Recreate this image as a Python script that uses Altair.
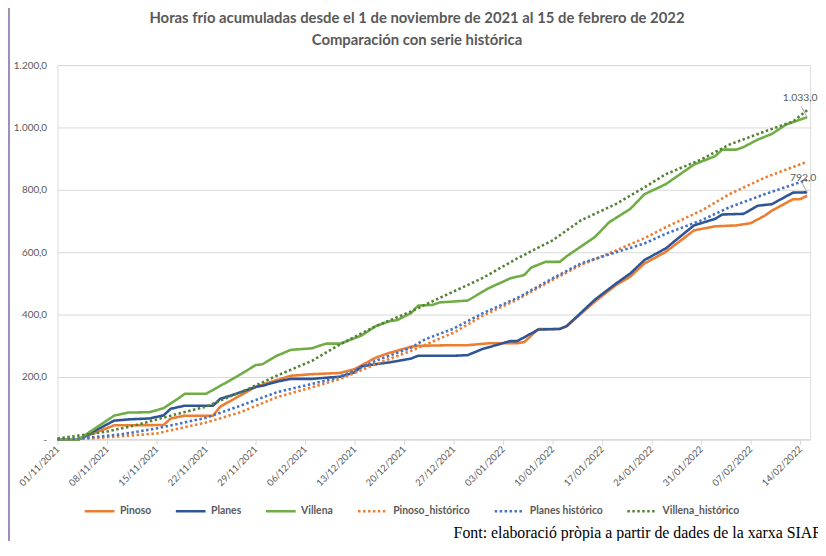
import altair as alt
import pandas as pd

titulo = ["Horas frío acumuladas desde el 1 de noviembre de 2021 al 15 de febrero de 2022",
          "Comparación con serie histórica"]
fuente = "Font: elaboració pròpia a partir de dades de la xarxa SIAR"
inicio = pd.Timestamp("2021-11-01")

series = ["Pinoso", "Planes", "Villena", "Pinoso_histórico", "Planes histórico", "Villena_histórico"]
colores = ["#ED7D31", "#2F5597", "#70AD47", "#ED7D31", "#4472C4", "#548235"]
trazos = [[1, 0], [1, 0], [1, 0], [2.5, 2.5], [2.5, 2.5], [2.5, 2.5]]

etiquetas_x = ["01/11/2021", "08/11/2021", "15/11/2021", "22/11/2021", "29/11/2021", "06/12/2021",
               "13/12/2021", "20/12/2021", "27/12/2021", "03/01/2022", "10/01/2022", "17/01/2022",
               "24/01/2022", "31/01/2022", "07/02/2022", "14/02/2022"]
valores_y = [0, 200, 400, 600, 800, 1000, 1200]

# days since 01/11/2021 and accumulated cold hours
pinoso_dias = [0, 3, 8, 15, 16, 18, 22, 23, 25, 28, 30, 33, 36, 40, 42, 45, 47, 48, 50, 51, 56, 58, 61, 65,
               66, 68, 71, 72, 76, 79, 81, 83, 86, 90, 93, 96, 98, 100, 101, 104, 105, 106]
pinoso_horas = [0, 0, 45, 46, 67, 76, 76, 105, 130, 168, 183, 204, 209, 213, 225, 262, 278, 284, 297, 300,
                302, 302, 308, 308, 312, 354, 354, 363, 442, 495, 522, 564, 601, 670, 683, 686, 693, 717,
                733, 770, 770, 781]

planes_dias = [0, 3, 8, 10, 13, 15, 16, 18, 22, 23, 25, 28, 29, 31, 33, 36, 40, 42, 43, 45, 47, 50, 51, 56,
               58, 60, 64, 65, 68, 71, 72, 76, 79, 81, 83, 86, 90, 93, 94, 97, 99, 101, 104, 106]
planes_horas = [0, 0, 60, 64, 67, 77, 98, 108, 108, 130, 144, 168, 172, 185, 194, 194, 201, 215, 234, 241,
                247, 259, 268, 268, 270, 289, 315, 315, 352, 354, 363, 448, 500, 532, 575, 612, 686, 707,
                721, 723, 749, 754, 791, 792]

villena_dias = [0, 3, 8, 10, 13, 15, 17, 18, 21, 24, 26, 28, 29, 31, 33, 36, 37, 38, 40, 43, 45, 47, 48, 50,
                51, 53, 54, 56, 58, 61, 64, 66, 67, 69, 71, 72, 76, 78, 81, 83, 86, 90, 93, 94, 96, 97, 99,
                101, 103, 106]
villena_horas = [0, 0, 76, 86, 87, 100, 130, 146, 146, 184, 210, 238, 241, 268, 287, 292, 300, 307, 307,
                 333, 363, 379, 382, 405, 429, 431, 439, 442, 445, 485, 516, 527, 551, 569, 569, 587, 649,
                 696, 739, 786, 818, 881, 908, 929, 929, 937, 961, 979, 1009, 1033]

pinoso_hist_dias = [0, 4, 9, 14, 21, 26, 31, 36, 40, 45, 50, 56, 60, 65, 70, 74, 79, 83, 86, 91, 95, 100, 106]
pinoso_hist_horas = [0, 2, 10, 19, 54, 88, 135, 167, 194, 241, 284, 342, 395, 448, 511, 559, 606, 645, 680,
                     733, 786, 839, 890]

planes_hist_dias = [0, 3, 9, 14, 21, 26, 31, 36, 39, 42, 45, 50, 52, 56, 60, 65, 70, 74, 79, 83, 86, 91, 95,
                    100, 106]
planes_hist_horas = [0, 3, 16, 35, 69, 109, 151, 178, 194, 220, 252, 294, 321, 355, 403, 453, 516, 564, 600,
                     628, 659, 702, 744, 786, 832]

villena_hist_dias = [0, 3, 7, 11, 16, 21, 27, 31, 36, 40, 45, 50, 52, 56, 60, 65, 70, 74, 79, 83, 86, 91, 95,
                     100, 104, 106]
villena_hist_horas = [3, 12, 25, 45, 76, 105, 162, 204, 252, 305, 363, 410, 432, 474, 516, 580, 638, 702,
                      755, 808, 850, 897, 945, 987, 1019, 1055]

datos = [
    ("Pinoso", pinoso_dias, pinoso_horas),
    ("Planes", planes_dias, planes_horas),
    ("Villena", villena_dias, villena_horas),
    ("Pinoso_histórico", pinoso_hist_dias, pinoso_hist_horas),
    ("Planes histórico", planes_hist_dias, planes_hist_horas),
    ("Villena_histórico", villena_hist_dias, villena_hist_horas),
]
filas = []
for nombre, dias, horas in datos:
    for d, h in zip(dias, horas):
        filas.append({"fecha": (inicio + pd.Timedelta(days=d)).strftime("%Y-%m-%dT%H:%M:%S"),
                      "horas": h, "serie": nombre})
df = pd.DataFrame(filas)


def fmt_es(v):
    return f"{v:,.1f}".replace(",", "X").replace(".", ",").replace("X", ".")


def dt(s, hours=0):
    d, m, y = s.split("/")
    return alt.DateTime(year=int(y), month=int(m), date=int(d), hours=hours)


ticks_x = [dt(s) for s in etiquetas_x]
gris = "#595959"
fuente_sans = "Lato"

leyenda = alt.Legend(title=None, orient="none", direction="horizontal", legendX=26, legendY=434,
                     symbolType="stroke", symbolSize=900, symbolStrokeWidth=2.5,
                     labelFont=fuente_sans, labelFontSize=10.5, labelFontWeight="bold",
                     labelColor=gris, labelOffset=4, columnPadding=19)

x_enc = alt.X("fecha:T", title=None,
              scale=alt.Scale(domain=[dt("01/11/2021"), dt("15/02/2022", hours=10)]),
              axis=alt.Axis(values=ticks_x, format="%d/%m/%Y", labelAngle=315, labelAlign="right",
                            labelBaseline="middle", labelFont=fuente_sans, labelFontSize=9.5,
                            labelColor=gris, domainColor="#d9d9d9", tickColor="#d9d9d9",
                            tickSize=5, labelPadding=3, grid=False, labelOverlap=False))
y_enc = alt.Y("horas:Q", title=None, scale=alt.Scale(domain=[0, 1200]),
              axis=alt.Axis(values=valores_y, domain=False, ticks=False, gridColor="#d9d9d9",
                            labelFont=fuente_sans, labelFontSize=10, labelColor=gris, labelPadding=11,
                            labelExpr="datum.value == 0 ? '-\u2003' : replace(replace(replace(format(datum.value, ',.1f'), ',', 'X'), '.', ','), 'X', '.')"))

lineas = alt.Chart(df).mark_line(strokeWidth=2.6, strokeJoin="round").encode(
    x=x_enc, y=y_enc,
    color=alt.Color("serie:N", scale=alt.Scale(domain=series, range=colores), legend=leyenda),
    strokeDash=alt.StrokeDash("serie:N", scale=alt.Scale(domain=series, range=trazos), legend=leyenda),
    order=alt.Order("fecha:T"),
)

fin_v = pd.DataFrame({"fecha": [(inicio + pd.Timedelta(days=villena_dias[-1])).strftime("%Y-%m-%dT%H:%M:%S")],
                      "horas": [villena_horas[-1]], "texto": [fmt_es(villena_horas[-1])]})
fin_p = pd.DataFrame({"fecha": [(inicio + pd.Timedelta(days=planes_dias[-1])).strftime("%Y-%m-%dT%H:%M:%S")],
                      "horas": [planes_horas[-1]], "texto": [fmt_es(planes_horas[-1])]})


def etiqueta(d, dx, dy):
    t = alt.Chart(d).mark_text(font=fuente_sans, fontSize=10.5, color=gris, dx=dx, dy=dy).encode(
        x="fecha:T", y="horas:Q", text="texto:N")
    r = alt.Chart(d).mark_rule(color="#a6a6a6", strokeWidth=1, x2Offset=-6, y2Offset=-11).encode(
        x="fecha:T", y="horas:Q", x2=alt.X2("fecha:T"), y2=alt.Y2("horas:Q"))
    return r + t


nota = alt.Chart(pd.DataFrame({"t": [fuente]})).mark_text(
    align="left", baseline="middle", font="Liberation Serif", fontSize=16, color="black").encode(
    x=alt.value(400), y=alt.value(473), text="t:N")

borde = alt.Chart(pd.DataFrame({"t": [0]})).mark_rule(color="#8064A2", strokeWidth=1.5).encode(
    x=alt.value(-49), y=alt.value(-60), y2=alt.value(490))

chart = alt.layer(lineas, etiqueta(fin_v, -7, -19), etiqueta(fin_p, -4, -14), nota, borde).properties(
    width=760, height=378,
    padding={"left": 50, "top": 55, "right": 8, "bottom": 100},
    autosize=alt.AutoSizeParams(type="none"),
    title=alt.TitleParams(text=titulo, font=fuente_sans, fontSize=15, fontWeight="bold", color=gris,
                          anchor="middle", frame="group", dx=-17, offset=-43, lineHeight=22),
).configure_view(stroke=None).configure(background="white")

chart.save("out.html", embed_options={"renderer": "svg", "actions": False})
